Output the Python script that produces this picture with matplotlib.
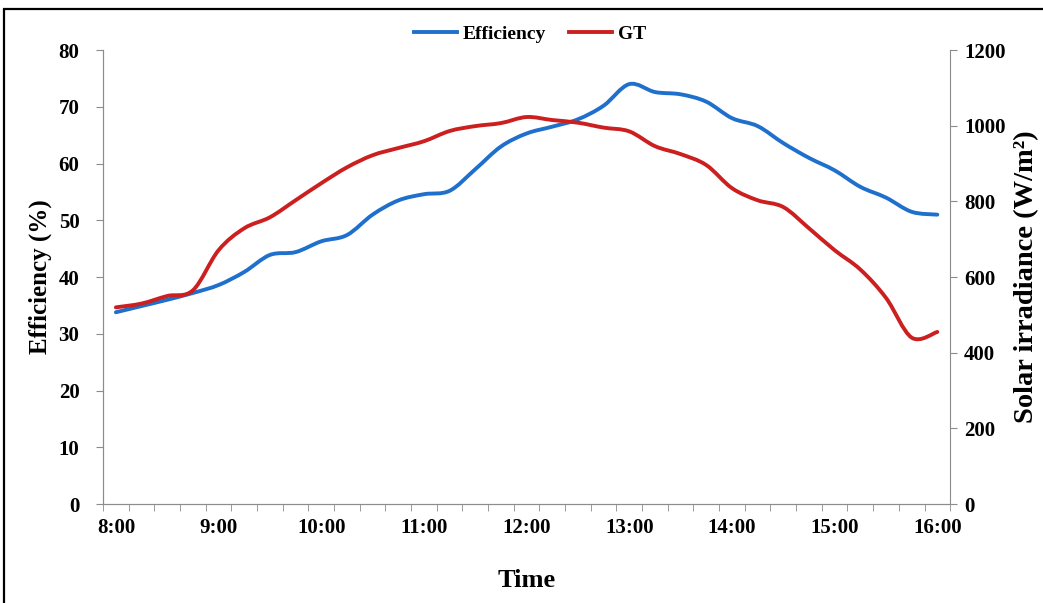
import matplotlib
matplotlib.use("Agg")
import matplotlib.pyplot as plt
from matplotlib.path import Path
from matplotlib.patches import PathPatch, Rectangle
from matplotlib.lines import Line2D

times = ["8:00", "8:15", "8:30", "8:45", "9:00", "9:15", "9:30", "9:45",
         "10:00", "10:15", "10:30", "10:45", "11:00", "11:15", "11:30", "11:45",
         "12:00", "12:15", "12:30", "12:45", "13:00", "13:15", "13:30", "13:45",
         "14:00", "14:15", "14:30", "14:45", "15:00", "15:15", "15:30", "15:45",
         "16:00"]

efficiency = [33.8, 34.9, 36.0, 37.2, 38.6, 40.9, 43.9, 44.4,
              46.3, 47.4, 51.0, 53.5, 54.6, 55.2, 59.0, 63.0,
              65.3, 66.5, 67.8, 70.2, 74.0, 72.6, 72.2, 70.9,
              68.0, 66.6, 63.6, 61.0, 58.8, 55.9, 54.0, 51.5,
              51.0]

gt = [520, 530, 550, 565, 671, 729, 758, 803,
      848, 890, 922, 941, 959, 986, 999, 1007,
      1023, 1015, 1008, 995, 985, 946, 925, 896,
      835, 803, 785, 729, 671, 620, 545, 440,
      455]

blue = "#1f6fcc"
red = "#cc1f1f"
grey = "#8c8c8c"
font = "Liberation Serif"


def smooth_path(xs, ys):
    # Catmull-Rom style bezier, like Excel's smoothed line
    n = len(xs)
    verts = [(xs[0], ys[0])]
    codes = [Path.MOVETO]
    for i in range(n - 1):
        x0, y0 = (xs[i - 1], ys[i - 1]) if i > 0 else (xs[i], ys[i])
        x1, y1 = xs[i], ys[i]
        x2, y2 = xs[i + 1], ys[i + 1]
        x3, y3 = (xs[i + 2], ys[i + 2]) if i + 2 < n else (x2, y2)
        c1 = (x1 + (x2 - x0) / 6, y1 + (y2 - y0) / 6)
        c2 = (x2 - (x3 - x1) / 6, y2 - (y3 - y1) / 6)
        verts += [c1, c2, (x2, y2)]
        codes += [Path.CURVE4] * 3
    return Path(verts, codes)


x = list(range(len(times)))

fig = plt.figure(figsize=(10.43, 6.03), dpi=100)
ax = fig.add_axes([0.0988, 0.164, 0.8122, 0.753])
ax2 = ax.twinx()

ax.add_patch(PathPatch(smooth_path(x, efficiency), fill=False, edgecolor=blue,
                       lw=2.8, capstyle="round", joinstyle="round"))
ax2.add_patch(PathPatch(smooth_path(x, gt), fill=False, edgecolor=red,
                        lw=2.8, capstyle="round", joinstyle="round"))

ax.set_xlim(-0.5, len(times) - 0.5)
ax.set_ylim(0, 80)
ax2.set_ylim(0, 1200)
ax.set_yticks(range(0, 81, 10))
ax2.set_yticks(range(0, 1201, 200))

ax.set_xticks(x[::4])
ax.set_xticklabels(times[::4])
ax.set_xticks([i - 0.5 for i in range(len(times) + 1)], minor=True)
ax.tick_params(axis="x", which="major", length=0, pad=10)
ax.tick_params(axis="x", which="minor", length=5, color=grey, direction="out")
ax.tick_params(axis="y", length=5, color=grey, direction="out", pad=12)
ax2.tick_params(axis="y", length=5, color=grey, direction="out", pad=5)

for a in (ax, ax2):
    for lbl in a.get_xticklabels() + a.get_yticklabels():
        lbl.set_fontfamily(font)
        lbl.set_fontweight("bold")
        lbl.set_fontsize(15)
    a.spines["top"].set_visible(False)
    for s in ("left", "right", "bottom"):
        a.spines[s].set_color(grey)
ax.spines["right"].set_visible(False)

ax.set_xlabel("Time", fontfamily=font, fontweight="bold", fontsize=19, labelpad=22)
ax.set_ylabel("Efficiency (%)", fontfamily=font, fontweight="bold", fontsize=18, labelpad=5)
ax2.set_ylabel("Solar irradiance (W/m\u00b2)", fontfamily=font, fontweight="bold",
               fontsize=20.5, labelpad=6)

handles = [Line2D([], [], color=blue, lw=2.8), Line2D([], [], color=red, lw=2.8)]
fig.legend(handles, ["Efficiency", "GT"], loc="center", bbox_to_anchor=(0.508, 0.943),
           ncol=2, frameon=False, handlelength=2.2, handletextpad=0.3, columnspacing=1.2,
           prop={"family": font, "weight": "bold", "size": 14})

fig.patches.append(Rectangle((4 / 1043, -0.1), 1.2, 1.1 - 9 / 603,
                             transform=fig.transFigure, fill=False,
                             edgecolor="black", lw=1.6))

fig.savefig("out.png", dpi=100)
